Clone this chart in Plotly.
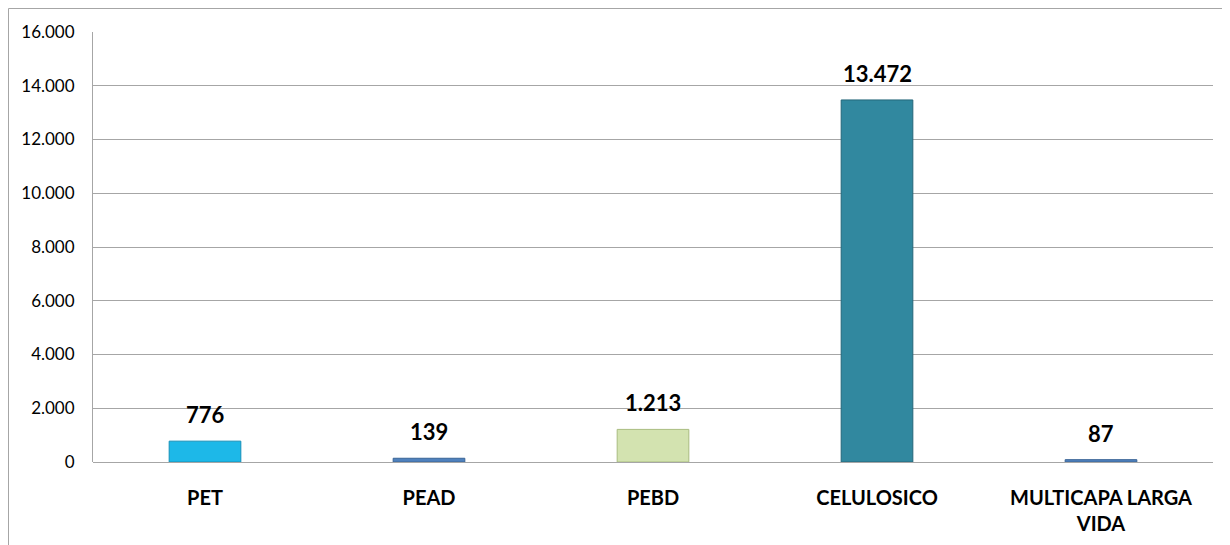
import plotly.graph_objects as go

categories = ["PET", "PEAD", "PEBD", "CELULOSICO", "MULTICAPA LARGA<br>VIDA"]
values = [776, 139, 1213, 13472, 87]
bar_colors = ["#1DB8E8", "#4F81BD", "#D3E3B0", "#31889F", "#4F81BD"]
line_colors = ["#1690B8", "#3A6496", "#A9BC80", "#24667A", "#3A6496"]
y_ticks = [0, 2000, 4000, 6000, 8000, 10000, 12000, 14000, 16000]

# page body has an 8px default margin; compensate
OFF = 8
W, H = 1230, 545
L = 93 - OFF
T = 32 - OFF
R = (W + OFF) - 1213
B = (H + OFF) - 462
pw, ph = W - L - R, H - T - B

FONT = "Lato, Calibri, sans-serif"

fig = go.Figure(go.Bar(
    x=categories,
    y=values,
    marker=dict(color=bar_colors, line=dict(color=line_colors, width=1)),
    width=0.32,
    cliponaxis=False,
))

for c, v in zip(categories, values):
    fig.add_annotation(
        x=c, y=v, xref="x", yref="y",
        text="<b>" + f"{v:,d}".replace(",", ".") + "</b>",
        showarrow=False, yanchor="bottom", yshift=11,
        font=dict(family=FONT, size=22, color="#000000"),
    )

fig.update_layout(
    width=W, height=H,
    margin=dict(l=L, r=R, t=T, b=B),
    paper_bgcolor="white",
    plot_bgcolor="white",
    separators=",.",
    showlegend=False,
    font=dict(family=FONT, color="#000000"),
    xaxis=dict(
        showgrid=False,
        showline=False,
        ticks="",
        tickfont=dict(size=20, family=FONT),
        ticklabelstandoff=22,
        tickprefix="<b>", ticksuffix="</b>",
    ),
    yaxis=dict(
        range=[0, 16000],
        tickvals=y_ticks,
        tickformat=",d",
        showgrid=True,
        gridcolor="#A6A6A6",
        gridwidth=1,
        showline=True,
        linecolor="#A6A6A6",
        linewidth=1,
        zeroline=True,
        zerolinecolor="#A6A6A6",
        zerolinewidth=1,
        ticks="",
        tickfont=dict(size=17, family=FONT),
        ticklabelstandoff=14,
    ),
    shapes=[dict(
        type="rect", xref="paper", yref="paper",
        x0=(0.5 - L) / pw, x1=(W + 10 - L) / pw,
        y0=-(H + 10 - (T + ph)) / ph, y1=1 + (T - 0.5) / ph,
        line=dict(color="#A6A6A6", width=1),
        fillcolor="rgba(0,0,0,0)",
        layer="below",
    )],
)

fig.write_html("out.html")
